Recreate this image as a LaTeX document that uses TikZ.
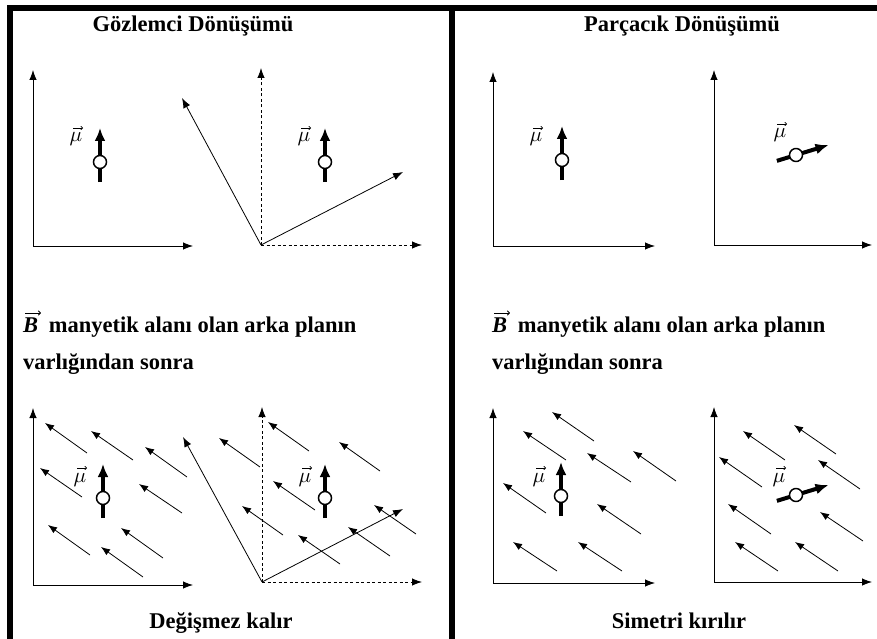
\documentclass[tikz,border=0pt]{standalone}
\usepackage{fontspec}
\setmainfont{Liberation Serif}
\usetikzlibrary{arrows.meta}
\begin{document}
\begin{tikzpicture}[x=1pt,y=-1pt,
  axis/.style={line width=0.8pt,-{Latex[length=10pt,width=7.5pt]}},
  daxis/.style={axis,dash pattern=on 3pt off 2.5pt},
  field/.style={line width=0.8pt,-{Latex[length=9pt,width=7pt]}},
  vecarrow/.style={line width=1pt,-{To[length=3pt,width=5pt]}},
  muarrow/.style={line width=0.7pt,-{To[length=2.5pt,width=4pt]}},
  frame/.style={line width=6pt},
  ttl/.style={font=\fontsize{22.5}{24}\selectfont\bfseries,anchor=base,inner sep=0pt},
  lbl/.style={font=\fontsize{22.5}{24}\selectfont\bfseries,anchor=base west,inner sep=0pt},
  spin/.pic={
    \draw[line width=4pt] (0,20) -- (0,5);
    \draw[line width=4pt,-{Latex[length=13pt,width=11pt]}] (0,-5) -- (0,-34);
    \draw[line width=1.5pt,fill=white] (0,0) circle (6.5);
  },
  mulabel/.pic={
    \node[inner sep=0pt,anchor=base] (-m) at (0,0) {\scalebox{2.1}{$\mu$}};
    \coordinate (-a) at (-3,-14);
    \coordinate (-b) at (7,-14);
    \draw[muarrow] (-a) -- (-b);
  }]
\useasboundingbox (0,0) rectangle (877,639);
% frame
\coordinate (fbl) at (10,639);
\coordinate (ftl) at (10,8.5);
\coordinate (ftr) at (877,8.5);
\coordinate (dt) at (452,8.5);
\coordinate (db) at (452,639);
\draw[frame] (fbl) -- (ftl) -- (ftr);
\draw[frame] (dt) -- (db);
% titles
\node[ttl] (t1) at (193,32) {Gözlemci Dönüşümü};
\node[ttl] (t2) at (682,32) {Parçacık Dönüşümü};
\node[lbl] (b1) at (23,332) {\textit{B}\hspace{5pt} manyetik alanı olan arka planın};
\node[lbl] (b2) at (23,369) {varlığından sonra};
\node[lbl] (b3) at (492,332) {\textit{B}\hspace{5pt} manyetik alanı olan arka planın};
\node[lbl] (b4) at (492,369) {varlığından sonra};
\coordinate (v1s) at (25,313);
\coordinate (v1e) at (41,313);
\coordinate (v3s) at (494,313);
\coordinate (v3e) at (510,313);
\draw[vecarrow] (v1s) -- (v1e);
\draw[vecarrow] (v3s) -- (v3e);
\node[ttl] (c1) at (221,628) {Değişmez kalır};
\node[ttl] (c2) at (679,628) {Simetri kırılır};

% ---------- top-left panel
\coordinate (o1) at (33,246);
\coordinate (y1) at (33,70);
\coordinate (x1) at (193,246);
\draw[axis] (o1) -- (y1);
\draw[axis] (o1) -- (x1);
\pic at (100,162) {spin};
\pic (m1) at (76,142) {mulabel};

% ---------- top-middle panel
\coordinate (o2) at (261,245);
\coordinate (y2) at (261,68);
\coordinate (x2) at (422,245);
\coordinate (r2a) at (182,98);
\coordinate (r2b) at (403,172);
\draw[daxis] (o2) -- (y2);
\draw[daxis] (o2) -- (x2);
\draw[axis] (o2) -- (r2a);
\draw[axis] (o2) -- (r2b);
\pic at (325,162) {spin};
\pic (m2) at (304,142) {mulabel};

% ---------- top-right panel 1
\coordinate (o3) at (493,246);
\coordinate (y3) at (493,72);
\coordinate (x3) at (655,246);
\draw[axis] (o3) -- (y3);
\draw[axis] (o3) -- (x3);
\pic at (562,160) {spin};
\pic (m3) at (536,142) {mulabel};

% ---------- top-right panel 2
\coordinate (o4) at (714,245);
\coordinate (y4) at (714,70);
\coordinate (x4) at (872,245);
\draw[axis] (o4) -- (y4);
\draw[axis] (o4) -- (x4);
\pic[rotate=-73] at (796,155) {spin};
\pic (m4) at (780,138) {mulabel};

% ---------- bottom-left panel
\coordinate (o5) at (33,585);
\coordinate (y5) at (33,408);
\coordinate (x5) at (193,585);
\draw[axis] (o5) -- (y5);
\draw[axis] (o5) -- (x5);
\foreach \hx/\hy/\tx/\ty in {45/423/87/453, 91/431/133/460, 145/447/187/477, 40/468/82/497,
  139/484/182/513, 48/525/90/555, 121/528/163/558, 101/547/143/577}
  \draw[field] (\tx,\ty) -- (\hx,\hy);
\pic at (103,498) {spin};
\pic (m5) at (80,482) {mulabel};

% ---------- bottom-middle panel
\coordinate (o6) at (262,582);
\coordinate (y6) at (262,407);
\coordinate (x6) at (422,582);
\coordinate (r6a) at (183,437);
\coordinate (r6b) at (403,509);
\draw[daxis] (o6) -- (y6);
\draw[daxis] (o6) -- (x6);
\draw[axis] (o6) -- (r6a);
\draw[axis] (o6) -- (r6b);
\foreach \hx/\hy/\tx/\ty in {219/438/260/467, 268/422/309/451, 339/442/380/471, 273/481/315/510,
  242/506/283/535, 374/505/416/534, 298/535/340/564, 348/527/390/556}
  \draw[field] (\tx,\ty) -- (\hx,\hy);
\pic at (325,498) {spin};
\pic (m6) at (305,482) {mulabel};

% ---------- bottom-right panel 1
\coordinate (o7) at (493,583);
\coordinate (y7) at (493,408);
\coordinate (x7) at (655,583);
\draw[axis] (o7) -- (y7);
\draw[axis] (o7) -- (x7);
\foreach \hx/\hy/\tx/\ty in {552/412/594/441, 523/431/566/460, 587/453/631/482, 633/451/676/481,
  503/483/546/513, 597/504/641/534, 513/542/557/571, 578/542/622/571}
  \draw[field] (\tx,\ty) -- (\hx,\hy);
\pic at (561,496) {spin};
\pic (m7) at (539,482) {mulabel};

% ---------- bottom-right panel 2
\coordinate (o8) at (714,582);
\coordinate (y8) at (714,407);
\coordinate (x8) at (872,582);
\draw[axis] (o8) -- (y8);
\draw[axis] (o8) -- (x8);
\foreach \hx/\hy/\tx/\ty in {794/425/836/454, 743/431/785/460, 719/457/762/487, 818/460/860/489,
  728/504/771/534, 820/512/863/541, 735/542/778/571, 795/542/838/571}
  \draw[field] (\tx,\ty) -- (\hx,\hy);
\pic[rotate=-73] at (796,495) {spin};
\pic (m8) at (779,482) {mulabel};
\end{tikzpicture}
\end{document}
